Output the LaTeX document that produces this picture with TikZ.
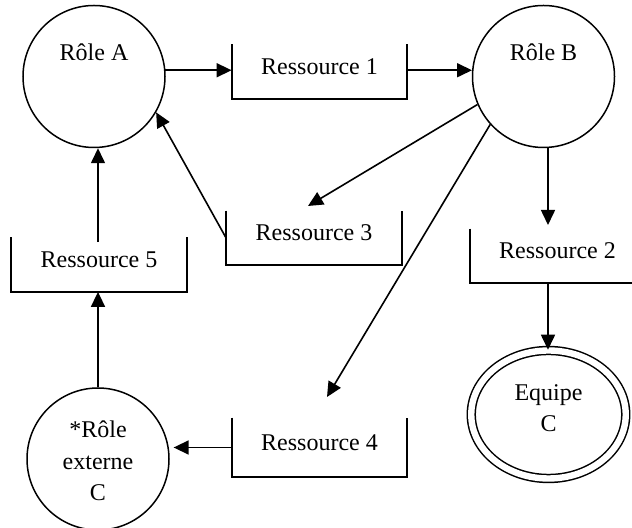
\documentclass[tikz,border=0pt]{standalone}
\usepackage{fontspec}
\setmainfont{Liberation Serif}
\usetikzlibrary{arrows.meta,shapes.geometric}

\begin{document}
\begin{tikzpicture}[x=0.5pt,y=-0.5pt,
  every node/.style={font=\fontsize{12}{15.75}\selectfont},
  role/.style={circle, draw, line width=0.75pt, minimum size=71pt, inner sep=0pt},
  team/.style={ellipse, draw, double, double distance=3.2pt, line width=0.75pt,
               minimum width=77.25pt, minimum height=64pt, inner sep=0pt},
  store/.style={inner sep=0pt, minimum width=87.5pt, minimum height=27pt,
                text height=8pt, text depth=5pt},
  storeline/.style={line width=1pt},
  flow/.style={line width=0.8pt, -{Triangle[length=7.5pt,width=7pt]}}]

  \clip (0,0) rectangle (632,528);

  % roles
  \node[role, label={[yshift=12.25pt]center:Rôle A}] (A) at (94,76.5) {};
  \node[role, label={[yshift=12.25pt]center:Rôle B}] (B) at (543.5,76.5) {};
  \node[role, label={[align=center, yshift=-1pt]center:*Rôle\\externe\\C}] (C) at (98,459) {};
  \node[team, label={[align=center, yshift=3.25pt]center:Equipe\\C}] (E) at (548.5,414.5) {};

  % resources (open stores)
  \node[store] (r1) at (319.5,71.5) {Ressource 1};
  \node[store] (r2) at (557.5,256) {Ressource 2};
  \node[store] (r3) at (314,238) {Ressource 3};
  \node[store, minimum height=29.5pt] (r4) at (319.5,447.5) {Ressource 4};
  \node[store] (r5) at (99,264.5) {Ressource 5};

  \foreach \r in {r1,r2,r3,r4,r5}
    \draw[storeline] (\r.north west) -- (\r.south west) -- (\r.south east) -- (\r.north east);

  % free arrow ends
  \coordinate (t3) at (308,206);
  \coordinate (t4) at (327,397);
  \coordinate (t2) at (548,225);

  % flows
  \draw[flow] (A.5) -- (A.5 -| r1.west);
  \draw[flow] (B.175 -| r1.east) -- (B.175);
  \draw[flow] (B.203) -- (t3);
  \draw[flow] (r3.west) -- (A.-30);
  \draw[flow] (B.222) -- (t4);
  \draw[flow] (B.south -| t2) -- (t2);
  \draw[flow] (r2.south -| t2) -- (E.north -| t2);
  \draw[flow, shorten >=2.5pt] (r4.west) -- (r4.west -| C.10);
  \draw[flow] (C.north) -- (r5.south -| C.north);
  \draw[flow] ([yshift=-2.5pt]r5.north -| C.north) -- (A.south -| C.north);
\end{tikzpicture}
\end{document}
